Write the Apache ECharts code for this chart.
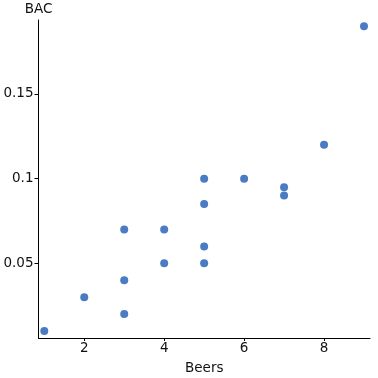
<!DOCTYPE html>
<html><head><meta charset="utf-8">
<script src="https://cdn.jsdelivr.net/npm/echarts@6/dist/echarts.min.js"></script>
<style>html,body{margin:0;padding:0;background:#fff}#c{width:378px;height:378px}</style>
</head><body><div id="c"></div>
<script>
const beers = [1, 2, 3, 3, 3, 4, 4, 5, 5, 5, 5, 6, 7, 7, 8, 9];
const bac = [0.01, 0.03, 0.02, 0.04, 0.07, 0.05, 0.07, 0.05, 0.06, 0.085, 0.10, 0.10, 0.09, 0.095, 0.12, 0.19];
const xTicks = [2, 4, 6, 8];
const yTicks = [0.05, 0.1, 0.15];
const pts = beers.map((b, i) => [b, bac[i]]);
const font = 'DejaVu Sans';
const chart = echarts.init(document.getElementById('c'));
chart.setOption({
  animation: false,
  grid: {left: 38.5, right: 8, top: 20, bottom: 40, containLabel: false, outerBoundsMode: 'none'},
  xAxis: {
    type: 'value', min: 0.855, max: 9.15,
    name: 'Beers', nameLocation: 'middle', nameGap: 23,
    nameTextStyle: {color: '#111', fontSize: 13.5, fontFamily: font},
    splitLine: {show: false},
    axisLine: {show: true, onZero: false, lineStyle: {color: '#000', width: 1}},
    axisTick: {show: true, length: 3, lineStyle: {color: '#000'},
      customValues: xTicks},
    axisLabel: {color: '#111', fontSize: 13.5, fontFamily: font, margin: 3,
      customValues: xTicks}
  },
  yAxis: {
    type: 'value', min: 0.0059, max: 0.1937,
    name: 'BAC', nameLocation: 'end', nameGap: 4,
    nameTextStyle: {color: '#111', fontSize: 13.5, fontFamily: font, align: 'center', verticalAlign: 'bottom'},
    splitLine: {show: false},
    axisLine: {show: true, onZero: false, lineStyle: {color: '#000', width: 1}},
    axisTick: {show: true, length: 4, lineStyle: {color: '#000'},
      customValues: yTicks},
    axisLabel: {color: '#111', fontSize: 13.5, fontFamily: font, margin: 5,
      customValues: yTicks, formatter: v => String(+v.toFixed(3))}
  },
  series: [{
    type: 'scatter', data: pts, symbolSize: 8,
    itemStyle: {color: '#4a7bc4', opacity: 1}
  }]
});
</script></body></html>
